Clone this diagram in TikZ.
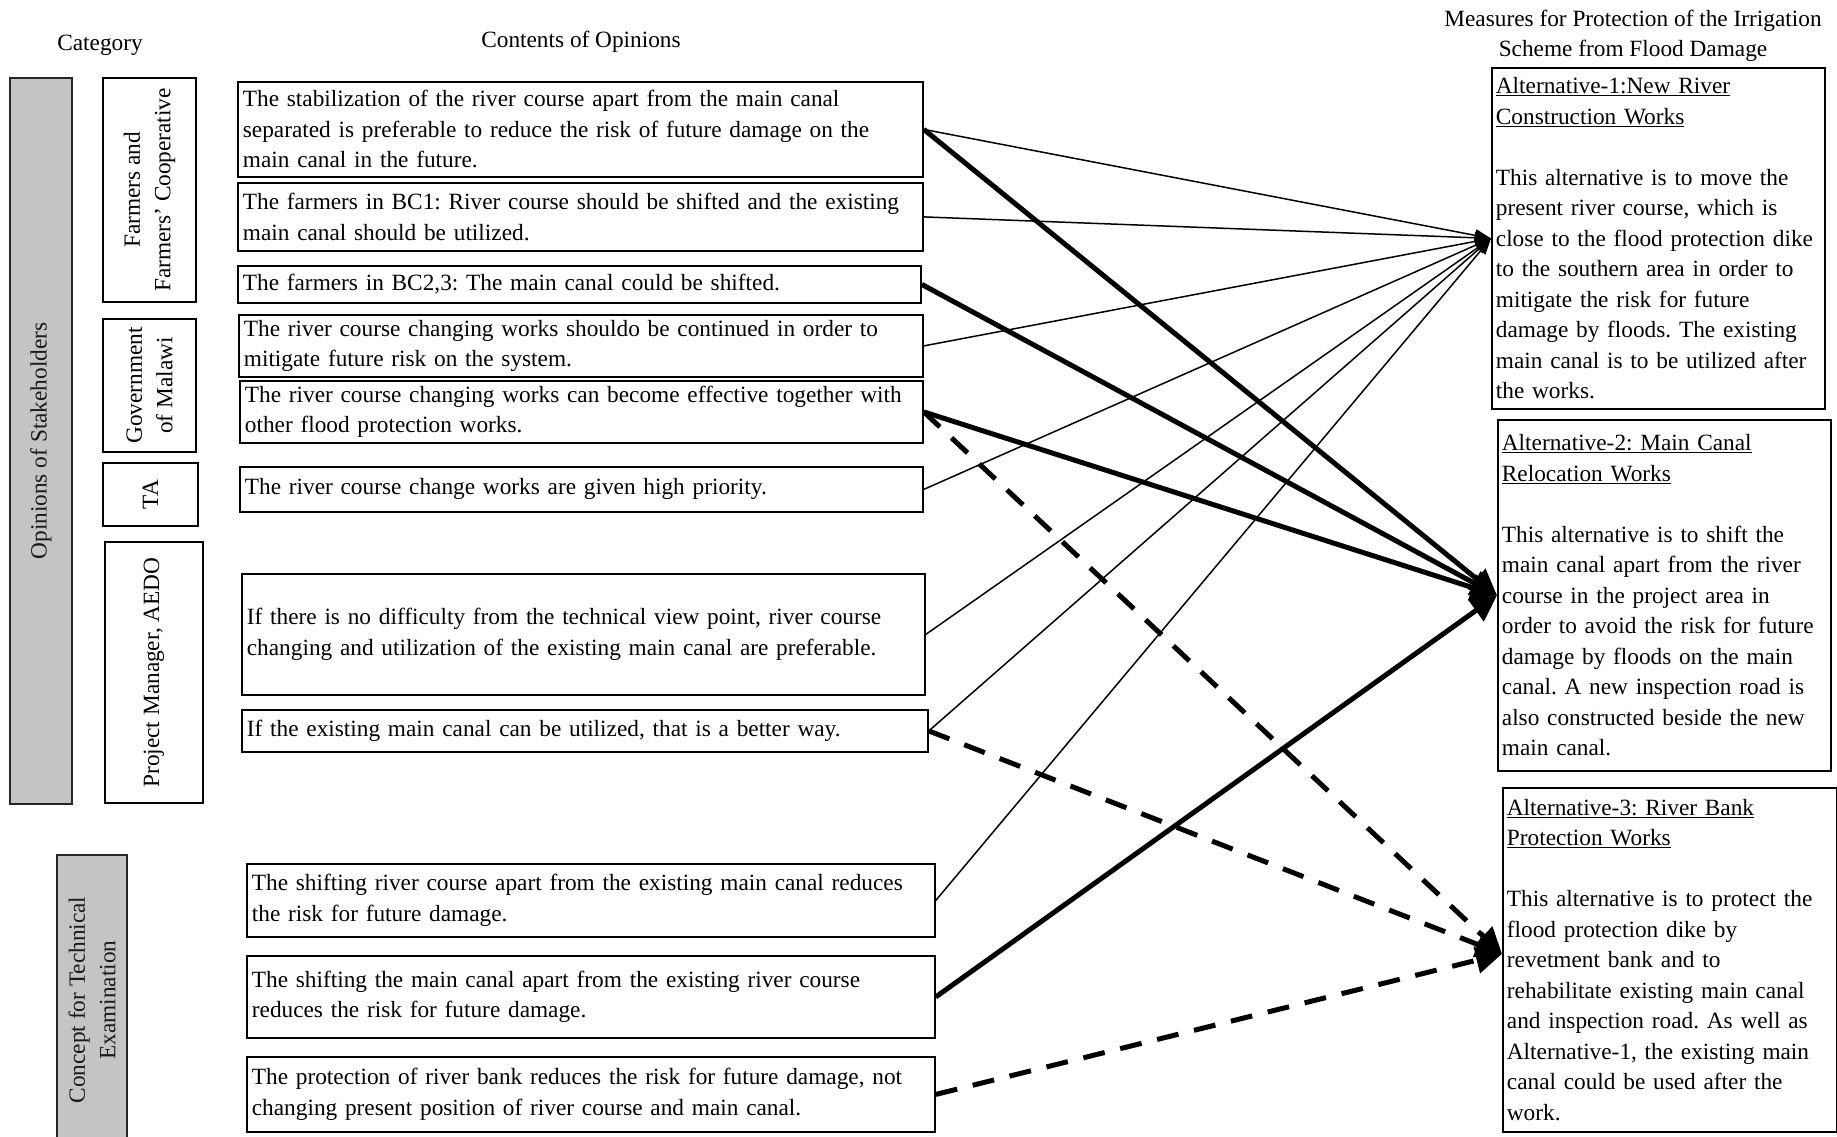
\documentclass[tikz,border=0pt]{standalone}
\usepackage{fontspec}
\setmainfont{Liberation Serif}
\usetikzlibrary{arrows.meta}
\definecolor{shade}{RGB}{196,196,196}
\begin{document}
\frenchspacing
\hyphenpenalty=10000
\begin{tikzpicture}[x=1pt,y=-1pt,
  txt/.style={font=\fontsize{23.3}{30.5}\selectfont},
  obox/.style={txt, draw, line width=1.8pt, anchor=north west, inner xsep=5pt, inner ysep=0pt, align=left},
  abox/.style={txt, draw, line width=1.8pt, anchor=north west, inner xsep=4pt, inner ysep=0pt, align=left},
  cbox/.style={txt, draw, line width=1.8pt, rotate=90, align=center, inner sep=0pt},
  gbox/.style={cbox, fill=shade, draw=black!85, line width=2.4pt, text=black!90},
  thinarrow/.style={line width=1.5pt, -{Triangle[length=16pt,width=12pt]}},
  thickarrow/.style={line width=5pt, -{Triangle[length=26pt,width=26pt]}},
  dasharrow/.style={line width=5pt, dash pattern=on 22pt off 16pt, -{Triangle[length=26pt,width=26pt]}}
]
\fill[white] (0,0) rectangle (1837,1136);
\useasboundingbox (0,0) rectangle (1837,1136);

% headers
\node[txt] (hcat) at (100,45) {Category};
\node[txt] (hcont) at (581,42) {Contents of Opinions};
\node[txt, align=center] (hmeas) at (1633,36) {Measures for Protection of the Irrigation\\Scheme from Flood Damage};

% category column
\node[gbox, minimum width=726pt, minimum height=62pt] (ops) at (41,441) {Opinions of Stakeholders};
\node[gbox, minimum width=290pt, minimum height=70pt] (cte) at (92,1000) {Concept for Technical\\Examination};
\node[cbox, minimum width=224pt, minimum height=93pt] (farm) at (149.5,190) {Farmers and\\Farmers' Cooperative};
\node[cbox, minimum width=133pt, minimum height=93pt] (gov) at (149.5,385.5) {Government\\of Malawi};
\node[cbox, minimum width=63pt, minimum height=95pt] (ta) at (150.5,494.5) {TA};
\node[cbox, minimum width=261pt, minimum height=98pt] (pm) at (154,672.5) {Project Manager, AEDO};

% opinions
\node[obox, text width=675pt, minimum height=95pt] (o1) at (237,81) {The stabilization of the river course apart from the main canal\\separated is preferable to reduce the risk of future damage on the\\main canal in the future.};
\node[obox, text width=675pt, minimum height=68pt] (o2) at (237,182) {The farmers in BC1: River course should be shifted and the existing\\main canal should be utilized.};
\node[obox, text width=673pt, minimum height=37pt] (o3) at (237,265) {The farmers in BC2,3: The main canal could be shifted.};
\node[obox, text width=674pt, minimum height=62pt] (o4) at (238,314) {The river course changing works shouldo be continued in order to\\mitigate future risk on the system.};
\node[obox, text width=673pt, minimum height=62pt] (o5) at (239,380) {The river course changing works can become effective together with\\other flood protection works.};
\node[obox, text width=673pt, minimum height=45pt] (o6) at (239,466) {The river course change works are given high priority.};
\node[obox, text width=673pt, minimum height=121pt] (o7) at (241,573) {If there is no difficulty from the technical view point, river course\\changing and utilization of the existing main canal are preferable.};
\node[obox, text width=676pt, minimum height=42pt] (o8) at (241,709) {If the existing main canal can be utilized, that is a better way.};
\node[obox, text width=678pt, minimum height=73pt] (o9) at (246,863) {The shifting river course apart from the existing main canal reduces\\the risk for future damage.};
\node[obox, text width=678pt, minimum height=82pt] (o10) at (246,955) {The shifting the main canal apart from the existing river course\\reduces the risk for future damage.};
\node[obox, text width=678pt, minimum height=75pt] (o11) at (246,1056) {The protection of river bank reduces the risk for future damage, not\\changing present position of river course and main canal.};

% alternatives
\node[abox, text width=325pt, minimum height=341pt] (a1) at (1491,67) {\underline{Alternative-1:New River}\\\underline{Construction Works}\\\mbox{}\\This alternative is to move the\\present river course, which is\\close to the flood protection dike\\to the southern area in order to\\mitigate the risk for future\\damage by floods. The existing\\main canal is to be utilized after\\the works.};
\node[abox, text width=325pt, minimum height=351pt] (a2) at (1497,419) {\underline{Alternative-2: Main Canal}\\\underline{Relocation Works}\\\mbox{}\\This alternative is to shift the\\main canal apart from the river\\course in the project area in\\order to avoid the risk for future\\damage by floods on the main\\canal. A new inspection road is\\also constructed beside the new\\main canal.};
\node[abox, text width=326pt, minimum height=344pt] (a3) at (1502,787) {\underline{Alternative-3: River Bank}\\\underline{Protection Works}\\\mbox{}\\This alternative is to protect the\\flood protection dike by\\revetment bank and to\\rehabilitate existing main canal\\and inspection road. As well as\\Alternative-1, the existing main\\canal could be used after the\\work.};

% connectors to Alternative-1
\foreach \s in {o1,o2,o4,o6,o7,o8,o9} \draw[thinarrow] (\s.east) -- (a1.west);
% connectors to Alternative-2
\foreach \s in {o1,o3,o5,o10} \draw[thickarrow] (\s.east) -- (a2.west);
% connectors to Alternative-3
\foreach \s in {o5,o8,o11} \draw[dasharrow] (\s.east) -- ([yshift=6pt]a3.west);
\end{tikzpicture}
\end{document}
